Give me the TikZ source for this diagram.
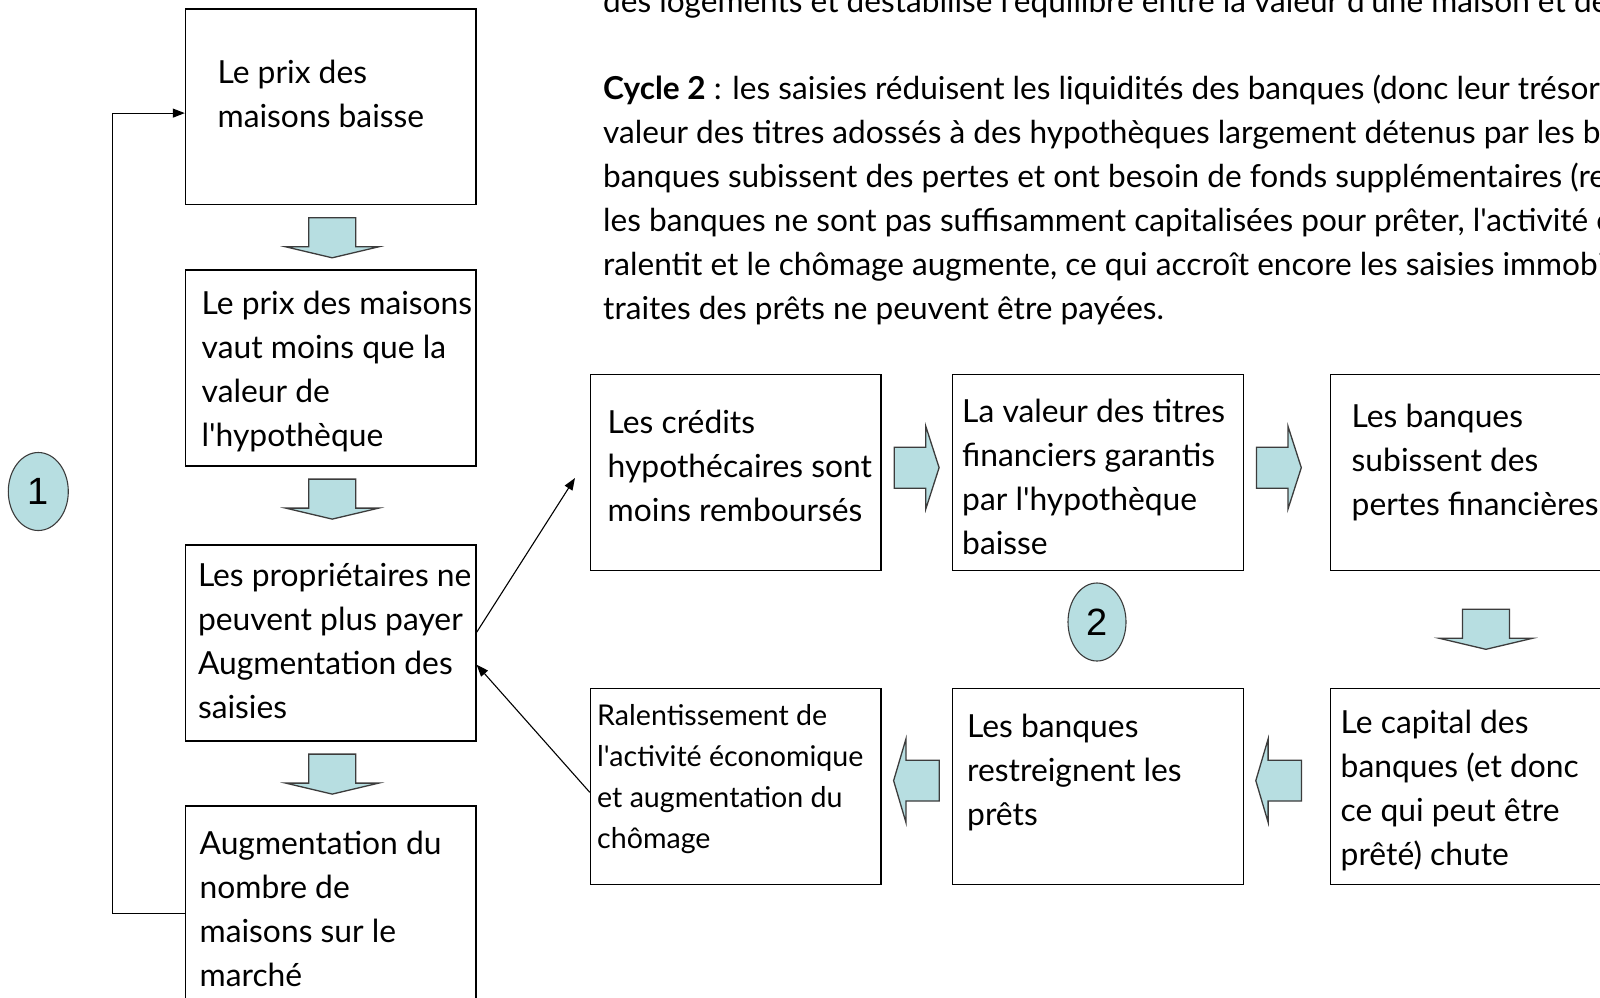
\documentclass[tikz,border=0pt]{standalone}
\usepackage{fontspec}
\setmainfont{Lato}[Ligatures=TeXOff]
\newfontfamily\numfont{Liberation Sans}
\usetikzlibrary{arrows.meta,shapes.geometric,calc}
\definecolor{afill}{RGB}{183,222,225}
\definecolor{aline}{RGB}{60,60,60}
\newcommand\bxfont{\fontsize{31.8}{44}\selectfont}
\newcommand\parfont{\fontsize{31.6}{44.1}\selectfont}
\newcommand\smbxfont{\fontsize{28.6}{41}\selectfont}
\newcommand\firstln{\rule{0pt}{36pt}}
\begin{document}
\begin{tikzpicture}[x=1pt,y=-1pt,
  box/.style={draw=black,line width=1.3pt,anchor=north west,inner sep=0pt,minimum width=290.5pt,minimum height=196pt},
  txt/.style={anchor=north west,inner sep=0pt,align=left,font=\bxfont},
  blk/.style={draw=aline,fill=afill,line width=1.3pt,line join=miter},
  conn/.style={draw=black,line width=1.1pt,-{Triangle[length=12pt,width=9pt]}},
  num/.style={ellipse,draw=aline,fill=afill,line width=1.1pt,inner sep=0pt,minimum width=60pt,minimum height=78pt,font=\numfont\fontsize{38}{40}\selectfont},
  downarrow/.pic={\path[blk] (-23.5,0) -- (23.5,0) -- (23.5,29) -- (46.5,29) -- (0,40) -- (-46.5,29) -- (-23.5,29) -- cycle;},
  rightarrow/.pic={\path[blk] (0,-20.5) -- (31.5,-20.5) -- (31.5,-41.3) -- (44.8,0) -- (31.5,41.3) -- (31.5,20.5) -- (0,20.5) -- cycle;},
  leftarrow/.pic={\path[blk] (0,0) -- (12.3,-41.6) -- (12.3,-20.4) -- (45.6,-20.4) -- (45.6,20.4) -- (12.3,20.4) -- (12.3,41.6) -- cycle;}
]
\clip (0,0) rectangle (1600,997);
\fill[white] (0,0) rectangle (1600,997);

% paragraph
\node[txt,font=\parfont] (ptop) at (603,-24) {\firstln des logements et déstabilise l'équilibre entre la valeur d'une maison et de};
\node[txt,font=\parfont] (para) at (603,63.2) {\firstln\textbf{Cycle 2} : les saisies réduisent les liquidités des banques (donc leur trésorerie\\
valeur des titres adossés à des hypothèques largement détenus par les banques\\
banques subissent des pertes et ont besoin de fonds supplémentaires (recapitalisation\\
les banques ne sont pas suffisamment capitalisées pour prêter, l'activité économique\\
ralentit et le chômage augmente, ce qui accroît encore les saisies immobilières\\
traites des prêts ne peuvent être payées.};

% cycle 1 boxes
\node[box,minimum height=195.7pt] (b1) at (184.8,8.3) {};
\node[box] (b2) at (184.8,269.3) {};
\node[box] (b3) at (184.8,544.3) {};
\node[box,minimum height=215pt] (b4) at (184.8,805.4) {};
\node[txt] (t1) at (217.4,47.5) {\firstln Le prix des\\maisons baisse};
\node[txt] (t2) at (201.5,278.5) {\firstln Le prix des maisons\\vaut moins que la\\valeur de\\l'hypothèque};
\node[txt] (t3) at (197.8,550.5) {\firstln Les propriétaires ne\\peuvent plus payer\\Augmentation des\\saisies};
\node[txt] (t4) at (199.4,818.5) {\firstln Augmentation du\\nombre de\\maisons sur le\\marché};

% cycle 2 boxes
\node[box] (bA) at (589.8,374) {};
\node[box] (bB) at (952,374) {};
\node[box] (bC) at (1329.5,374) {};
\node[box] (bD) at (589.8,688) {};
\node[box] (bE) at (952,688) {};
\node[box] (bF) at (1329.5,688) {};
\node[txt] (tA) at (607.5,397.5) {\firstln Les crédits\\hypothécaires sont\\moins remboursés};
\node[txt] (tB) at (962,386.5) {\firstln La valeur des titres\\financiers garantis\\par l'hypothèque\\baisse};
\node[txt] (tC) at (1351.5,391.5) {\firstln Les banques\\subissent des\\pertes financières};
\node[txt,font=\smbxfont] (tD) at (597,689) {\firstln Ralentissement de\\l'activité économique\\et augmentation du\\chômage};
\node[txt] (tE) at (967,701) {\firstln Les banques\\restreignent les\\prêts};
\node[txt] (tF) at (1340.5,697.5) {\firstln Le capital des\\banques (et donc\\ce qui peut être\\prêté) chute};

% cycle numbers
\node[num] (n1) at (38.3,491.5) {1};
\node[num,minimum width=58pt] (n2) at (1097,622) {2};

% block arrows
\pic at ($(b1.south)+(1.5,12.5)$) {downarrow};
\pic at ($(b2.south)+(1.5,12.5)$) {downarrow};
\pic at ($(b3.south)+(1.5,12.5)$) {downarrow};
\pic at ($(bC.south)+(10.5,38)$) {downarrow};
\pic at ($(bA.east)+(12.7,-5)$) {rightarrow};
\pic at ($(bB.east)+(12.7,-5)$) {rightarrow};
\pic at ($(bD.east)+(12,-6)$) {leftarrow};
\pic at ($(bE.east)+(12,-6)$) {leftarrow};

% connectors
\coordinate (b1in) at ($(b1.west)+(0,6.3)$);
\draw[conn] (b4.west) -- ++(-72.5,0) |- (b1in);
\coordinate (tipA) at (575,478);
\draw[conn] ($(b3.east)+(0,-10.6)$) -- (tipA);
\draw[conn] ($(bD.west)+(0,5.7)$) -- ($(b3.east)+(0,21.7)$);
\end{tikzpicture}
\end{document}
